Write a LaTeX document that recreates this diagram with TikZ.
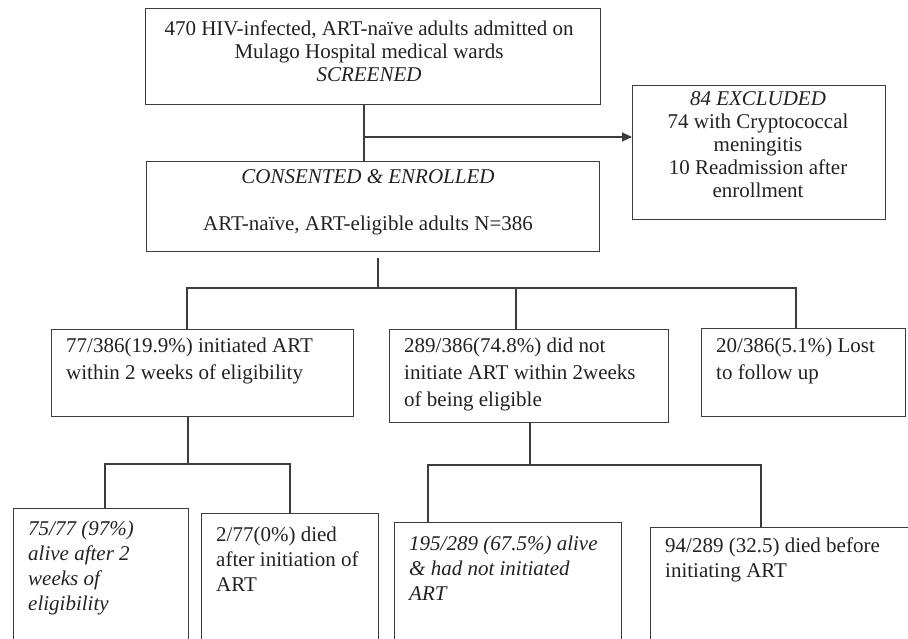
\documentclass[tikz,border=0pt]{standalone}
\usepackage{fontspec}
\setmainfont{Liberation Serif}
\usetikzlibrary{arrows.meta}
\definecolor{linec}{HTML}{3C3C3C}
\definecolor{textc}{HTML}{222222}
\begin{document}
\begin{tikzpicture}[x=1pt,y=-1pt,
  box/.style={draw=linec, line width=1.2pt, rectangle, inner sep=0pt, anchor=north west},
  conn/.style={draw=linec, line width=1.1pt},
  arr/.style={conn, -{Triangle[length=10pt,width=9pt]}},
  txt/.style={inner sep=0pt, anchor=north west, align=left, text=textc},
  ctxt/.style={inner sep=0pt, anchor=north, align=center, text=textc},
  ftop/.style={font=\fontsize{21}{23}\selectfont},
  fmid/.style={font=\fontsize{21}{27}\selectfont},
  fbot/.style={font=\fontsize{21}{25}\selectfont}]
\useasboundingbox (0,0) rectangle (908,639);
\fill[white] (0,0) rectangle (908,639);

% boxes
\node[box, minimum width=455pt, minimum height=96pt] (T) at (145,8) {};
\node[box, minimum width=253pt, minimum height=134pt] (X) at (632,85) {};
\node[box, minimum width=453pt, minimum height=90pt] (E) at (146,161) {};
\node[box, minimum width=302pt, minimum height=87pt] (A) at (51,329) {};
\node[box, minimum width=279pt, minimum height=93pt] (B) at (389,329) {};
\node[box, minimum width=204pt, minimum height=88pt] (C) at (701,328) {};
\node[box, minimum width=175pt, minimum height=150pt] (D1) at (13,508) {};
\node[box, minimum width=177pt, minimum height=150pt] (D2) at (201,513) {};
\node[box, minimum width=227pt, minimum height=150pt] (D3) at (394,522) {};
\node[box, minimum width=270pt, minimum height=150pt] (D4) at (650,527) {};

% texts
\node[ctxt, ftop] (Tt) at (369,20) {\rule{0pt}{15pt}470 HIV-infected, ART-naïve adults admitted on\\Mulago Hospital medical wards\\\textit{SCREENED}};
\node[ctxt, ftop] (Xt) at (758,90) {\rule{0pt}{15pt}\textit{84 EXCLUDED}\\74 with Cryptococcal\\meningitis\\10 Readmission after\\enrollment};
\node[ctxt, ftop] (Et) at (368,168) {\rule{0pt}{15pt}\textit{CONSENTED \& ENROLLED}\\[24pt]ART-naïve, ART-eligible adults N=386};
\node[txt, fmid] (At) at (66,337) {\rule{0pt}{15pt}77/386(19.9\%) initiated ART\\within 2 weeks of eligibility};
\node[txt, fmid] (Bt) at (404,337) {\rule{0pt}{15pt}289/386(74.8\%) did not\\initiate ART within 2weeks\\of being eligible};
\node[txt, fmid] (Ct) at (716,337) {\rule{0pt}{15pt}20/386(5.1\%) Lost\\to follow up};
\node[txt, fbot] (D1t) at (28,520) {\rule{0pt}{15pt}\textit{75/77 (97\%)}\\\textit{alive after 2}\\\textit{weeks of}\\\textit{eligibility}};
\node[txt, fbot] (D2t) at (216,526) {\rule{0pt}{15pt}2/77(0\%) died\\after initiation of\\ART};
\node[txt, fbot] (D3t) at (409,535) {\rule{0pt}{15pt}\textit{195/289 (67.5\%) alive}\\\textit{\& had not initiated}\\\textit{ART}};
\node[txt, fbot] (D4t) at (665,537) {\rule{0pt}{15pt}94/289 (32.5) died before\\initiating ART};

% connectors
\coordinate (tA) at (364,137);
\draw[conn] (T.south -| tA) -- (E.north -| tA);
\draw[arr] (tA) -- (tA -| X.west);

\coordinate (s1) at (378,288);
\coordinate (s0) at ([yshift=-6pt]E.south -| s1);
\coordinate (hL) at (187,288);
\coordinate (hM) at (516,288);
\coordinate (hR) at (796,288);
\draw[conn] (s0) -- (s1);
\draw[conn] (hL |- A.north) -- (hL) -- (hR) -- (hR |- C.north);
\draw[conn] (hM) -- (hM |- B.north);

\coordinate (a1) at (188,464);
\coordinate (aL) at (105,464);
\coordinate (aR) at (290,464);
\draw[conn] (A.south -| a1) -- (a1);
\draw[conn] (aL |- D1.north) -- (aL) -- (aR) -- (aR |- D2.north);

\coordinate (b1) at (530,465);
\coordinate (bL) at (428,465);
\coordinate (bR) at (761,465);
\draw[conn] (B.south -| b1) -- (b1);
\draw[conn] (bL |- D3.north) -- (bL) -- (bR) -- (bR |- D4.north);
\end{tikzpicture}
\end{document}
